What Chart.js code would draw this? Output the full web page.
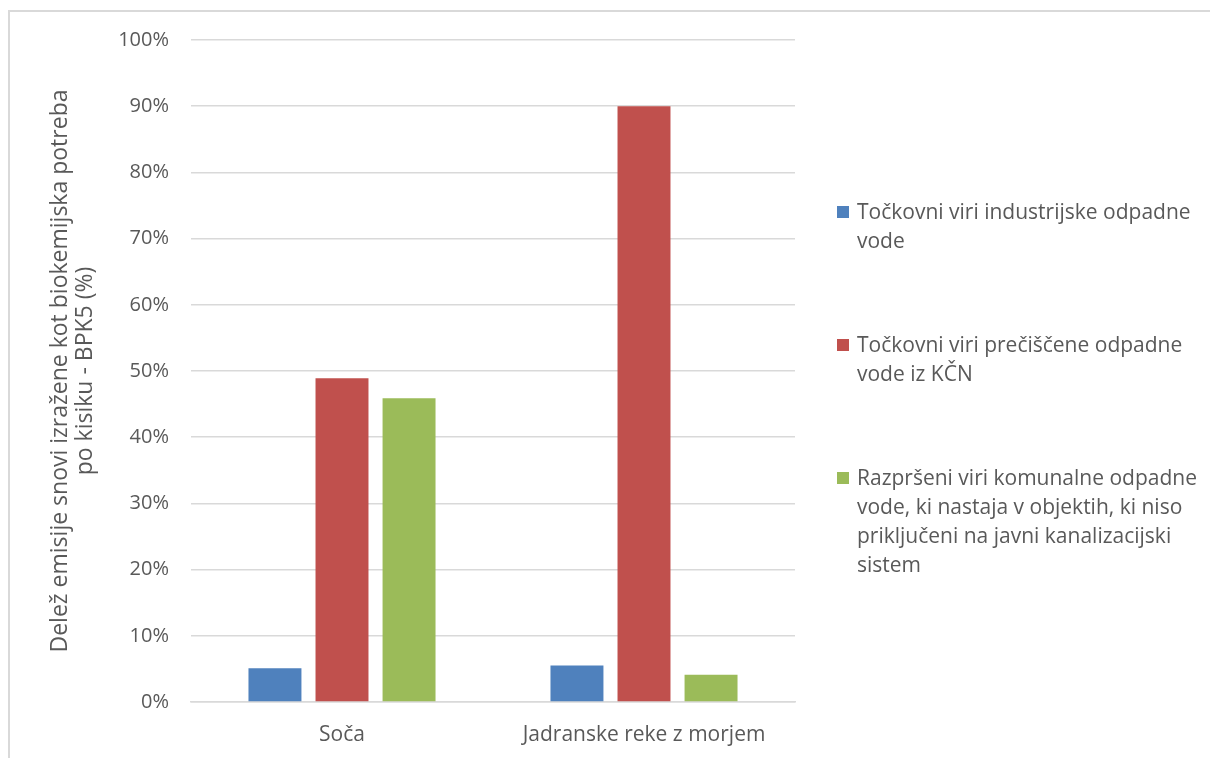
<!DOCTYPE html>
<html>
<head>
<meta charset="utf-8">
<script src="https://cdn.jsdelivr.net/npm/chart.js@4.4.1/dist/chart.umd.min.js"></script>
<style>
  html, body { margin: 0; padding: 0; background: #fff; }
  #wrap { position: relative; width: 1210px; height: 758px; overflow: hidden; font-family: "Open Sans", Lato, sans-serif; }
  #frame { position: absolute; left: 8px; top: 10px; right: -10px; bottom: -10px; border-top: 2px solid #d9d9d9; border-left: 2px solid #d9d9d9; }
  #chart { position: absolute; left: 0; top: 0; }
  #legend { position: absolute; left: 837px; top: 197px; display: flex; flex-direction: column; gap: 75px; color: #595959; font-size: 21px; line-height: 29px; }
  .item { position: relative; padding-left: 20px; }
  .box { position: absolute; left: 0; top: 9px; width: 12px; height: 12px; }
</style>
</head>
<body>
<div id="wrap">
  <div id="frame"></div>
  <canvas id="chart" width="1210" height="758"></canvas>
  <div id="legend"></div>
</div>
<script>
const categories = ["Soča", "Jadranske reke z morjem"];
const seriesLabels = [
  ["Točkovni viri industrijske odpadne", "vode"],
  ["Točkovni viri prečiščene odpadne", "vode iz KČN"],
  ["Razpršeni viri komunalne odpadne", "vode, ki nastaja v objektih, ki niso", "priključeni na javni kanalizacijski", "sistem"],
];
const industrija = [5.1, 5.5];
const kcn = [48.9, 90.0];
const razprseni = [45.9, 4.1];
const colors = ["#4F81BD", "#C0504D", "#9BBB59"];
const yTitle = ["Delež emisije snovi izražene kot biokemijska potreba", "po kisiku - BPK5 (%)"];

const textColor = "#595959";
const gridColor = "#d9d9d9";
const font = "'Open Sans', Lato, sans-serif";

const values = [industrija, kcn, razprseni];
const datasets = values.map((data, i) => ({
  label: seriesLabels[i].join(" "),
  data,
  backgroundColor: colors[i],
  borderWidth: 0,
  categoryPercentage: 0.666,
  barPercentage: 0.79,
}));

new Chart(document.getElementById("chart"), {
  type: "bar",
  data: { labels: categories, datasets },
  options: {
    responsive: false,
    animation: false,
    layout: { padding: { left: 28, top: 40, right: 415, bottom: 0 } },
    plugins: { legend: { display: false }, tooltip: { enabled: false } },
    scales: {
      x: {
        grid: { display: false, drawTicks: false },
        border: { color: gridColor, width: 1.5 },
        ticks: { color: textColor, padding: 20, font: { family: font, size: 21 } },
        afterFit: s => { s.height = 56; },
      },
      y: {
        min: 0,
        max: 100,
        ticks: {
          stepSize: 10,
          color: textColor,
          padding: 22,
          font: { family: font, size: 20 },
          callback: v => v + "%",
        },
        grid: { color: gridColor, lineWidth: 1.5, drawTicks: false },
        border: { display: false },
        title: {
          display: true,
          text: yTitle,
          color: textColor,
          padding: { top: 19.5, bottom: 0 },
          font: { family: font, size: 23, lineHeight: 1.087 },
        },
        afterFit: s => { s.width = 163; },
      },
    },
  },
});

// legenda (Chart.js ne lomi vrstic)
const legend = document.getElementById("legend");
seriesLabels.forEach((lines, i) => {
  const item = document.createElement("div");
  item.className = "item";
  const box = document.createElement("span");
  box.className = "box";
  box.style.background = colors[i];
  item.appendChild(box);
  lines.forEach(t => {
    const row = document.createElement("div");
    row.textContent = t;
    item.appendChild(row);
  });
  legend.appendChild(item);
});
</script>
</body>
</html>
